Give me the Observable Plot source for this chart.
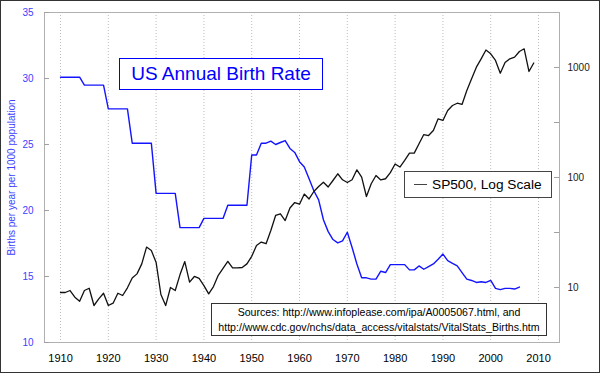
<!DOCTYPE html>
<html>
<head>
<meta charset="utf-8">
<script src="https://cdn.jsdelivr.net/npm/d3@7"></script>
<script src="https://cdn.jsdelivr.net/npm/@observablehq/plot@0.6"></script>
<style>
  html, body { margin: 0; padding: 0; background: #fff; }
  #wrap { position: relative; width: 600px; height: 373px; background: #fff; overflow: hidden;
          font-family: "Liberation Sans", Arial, sans-serif; }
  #wrap svg { position: absolute; left: 0; top: 0; }
  .box { position: absolute; box-sizing: border-box; background: #fff; }
  #title { left: 119px; top: 58px; width: 204px; height: 32px; border: 1px solid #0000ff;
           color: #0000ff; font-size: 19px; display: flex; align-items: center; justify-content: center; white-space: nowrap; }
  #legend { left: 404px; top: 171px; width: 148px; height: 27px; border: 1px solid #444;
            display: flex; align-items: center; padding-left: 9px; font-size: 13.7px; color: #000; white-space: nowrap; }
  #legend .swatch { display: inline-block; width: 13px; height: 0; border-top: 1.5px solid #444; margin-right: 5px; }
  #sources { left: 211px; top: 303px; width: 336px; height: 33px; border: 1px solid #333;
             display: flex; flex-direction: column; align-items: center; justify-content: center;
             font-size: 10.6px; line-height: 14.7px; color: #000; white-space: nowrap; }
  #border { position: absolute; left: 0; top: 0; width: 600px; height: 373px; box-sizing: border-box;
            border: 1px solid #333; pointer-events: none; }
</style>
</head>
<body>
<div id="wrap"></div>
<script>
// ---- data ----
const titleText = "US Annual Birth Rate";
const legendText = "SP500, Log Scale";
const yTitle = "Births per year per 1000 population";
const sourceLines = [
  "Sources: http://www.infoplease.com/ipa/A0005067.html, and",
  "http://www.cdc.gov/nchs/data_access/vitalstats/VitalStats_Births.htm"
];

const yearTicks = [1910, 1920, 1930, 1940, 1950, 1960, 1970, 1980, 1990, 2000, 2010];
const birthTicks = [10, 15, 20, 25, 30, 35];
const spTickMarks = [10, 31.62, 100, 316.2, 1000];
const spTickLabels = [10, 100, 1000];
const spDomain = [3.162, 3162];

// US birth rate per 1000 population, 1910..2006
const birthStart = 1910;
const birthRate = [
  30.1, 30.1, 30.1, 30.1, 30.1,   // 1910-14
  29.5, 29.5, 29.5, 29.5, 29.5,   // 1915-19
  27.7, 27.7, 27.7, 27.7, 27.7,   // 1920-24
  25.1, 25.1, 25.1, 25.1, 25.1,   // 1925-29
  21.3, 21.3, 21.3, 21.3, 21.3,   // 1930-34
  18.7, 18.7, 18.7, 18.7, 18.7,   // 1935-39
  19.4, 19.4, 19.4, 19.4, 19.4,   // 1940-44
  20.4, 20.4, 20.4, 20.4, 20.4,   // 1945-49
  24.2, 24.2, 25.1, 25.1, 25.25, 25.0, 25.15, 25.3, 24.7, 24.4,   // 1950-59
  23.7, 23.3, 22.4, 21.5, 20.8, 19.3, 18.4, 17.8, 17.55, 17.7,    // 1960-69
  18.35, 17.2, 15.95, 14.9, 14.9, 14.8, 14.8, 15.4, 15.3, 15.9,   // 1970-79
  15.9, 15.9, 15.9, 15.5, 15.5, 15.8, 15.55, 15.75, 15.95, 16.3,  // 1980-89
  16.7, 16.2, 16.0, 15.8, 15.3, 14.8, 14.7, 14.55, 14.6, 14.55,   // 1990-99
  14.7, 14.1, 14.0, 14.1, 14.1, 14.05, 14.2                        // 2000-06
];

// S&P 500 yearly level, 1910..2009 (log scale)
const spStart = 1910;
const sp500 = [
  9.01, 9.01, 9.39, 8.16, 7.50, 9.39, 9.85, 6.86, 7.89, 8.87,        // 1910s
  6.86, 7.20, 8.87, 8.46, 9.94, 12.2, 13.3, 16.4, 23.3, 21.7,        // 1920s
  16.9, 8.64, 6.85, 10.0, 9.38, 13.1, 17.2, 11.2, 12.6, 12.1,        // 1930s
  10.4, 8.75, 10.2, 12.9, 14.9, 17.3, 15.1, 15.1, 15.2, 16.4,        // 1940s
  19.2, 24.1, 25.9, 25.0, 33.0, 45.2, 46.8, 40.6, 52.8, 59.2,        // 1950s
  57.2, 70.7, 63.8, 74.6, 82.8, 90.6, 82.0, 93.9, 108.1, 95.3,       // 1960s
  90.1, 95.3, 117.4, 100.7, 67.2, 87.7, 104.3, 95.0, 97.4, 110.7,    // 1970s
  132.8, 124.4, 142.8, 166.5, 166.5, 202.4, 245.6, 240.8, 267.7, 341.5, // 1980s
  329.9, 406.8, 451.1, 473.2, 461.7, 617.6, 789.4, 1006.6, 1199.5, 1441.9, // 1990s
  1332.3, 1158.3, 887.5, 1110.9, 1199.5, 1241.6, 1398.7, 1478.8, 920.1, 1098.3 // 2000s
];

const birthData = birthRate.map((v, i) => ({year: birthStart + i, rate: v}));
const spData = sp500.map((v, i) => ({year: spStart + i, value: v}));

// ---- layout ----
const W = 600, H = 373;
const M = {left: 44, right: 41, top: 12, bottom: 31};
const xDomain = [1906.65, 2014.39];
const font = "'Liberation Sans', Arial, sans-serif";
const innerW = W - M.left - M.right;

const wrap = document.getElementById("wrap");

const birthPlot = Plot.plot({
  width: W, height: H,
  marginLeft: M.left, marginRight: M.right, marginTop: M.top, marginBottom: M.bottom,
  style: {background: "transparent", fontFamily: font, overflow: "visible"},
  x: {domain: xDomain},
  y: {domain: [10, 35]},
  marks: [
    Plot.gridX(yearTicks, {stroke: "#bdbdbd", strokeOpacity: 1, strokeDasharray: "1,2"}),
    Plot.frame({stroke: "#b0b0b0"}),
    Plot.ruleY(birthTicks, {stroke: "#a0a0a0", insetRight: innerW - 5}),
    Plot.axisX(yearTicks, {tickSize: 0, tickPadding: 12, fontSize: 11, fill: "#000",
                           tickFormat: d => String(d), label: null}),
    Plot.axisY(birthTicks, {tickSize: 0, tickPadding: 11, fontSize: 10, fill: "#4040ff",
                            tickFormat: d => String(d), label: null}),
    Plot.text([yTitle], {frameAnchor: "left", rotate: -90, dx: -33, fill: "#4040ff",
                         fontSize: 10, textAnchor: "middle"}),
    Plot.line(birthData, {x: "year", y: "rate", stroke: "#1414ff", strokeWidth: 1.4})
  ]
});

const spPlot = Plot.plot({
  width: W, height: H,
  marginLeft: M.left, marginRight: M.right, marginTop: M.top, marginBottom: M.bottom,
  style: {background: "transparent", fontFamily: font, overflow: "visible"},
  x: {domain: xDomain, axis: null},
  y: {type: "log", domain: spDomain},
  marks: [
    Plot.ruleY(spTickMarks, {stroke: "#a0a0a0", insetLeft: innerW - 5}),
    Plot.axisY(spTickLabels, {anchor: "right", tickSize: 0, tickPadding: 8, fontSize: 10, fill: "#222",
                              tickFormat: d => String(d), label: null}),
    Plot.line(spData, {x: "year", y: "value", stroke: "#111", strokeWidth: 1.3})
  ]
});

wrap.appendChild(birthPlot);
wrap.appendChild(spPlot);

// annotation boxes
const title = document.createElement("div");
title.className = "box"; title.id = "title"; title.textContent = titleText;
wrap.appendChild(title);

const legend = document.createElement("div");
legend.className = "box"; legend.id = "legend";
const sw = document.createElement("span"); sw.className = "swatch";
const lt = document.createElement("span"); lt.textContent = legendText;
legend.appendChild(sw); legend.appendChild(lt);
wrap.appendChild(legend);

const src = document.createElement("div");
src.className = "box"; src.id = "sources";
sourceLines.forEach(t => { const d = document.createElement("div"); d.textContent = t; src.appendChild(d); });
wrap.appendChild(src);

const border = document.createElement("div");
border.id = "border";
wrap.appendChild(border);
</script>
</body>
</html>
